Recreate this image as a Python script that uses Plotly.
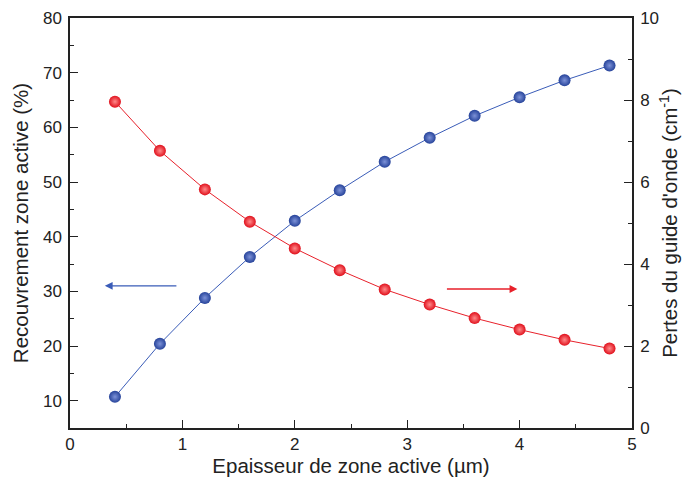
import plotly.graph_objects as go

thickness = [0.4, 0.8, 1.2, 1.6, 2.0, 2.4, 2.8, 3.2, 3.6, 4.0, 4.4, 4.8]
overlap = [10.7, 20.4, 28.8, 36.3, 42.9, 48.5, 53.7, 58.1, 62.1, 65.5, 68.6, 71.3]
losses = [7.96, 6.76, 5.82, 5.03, 4.38, 3.85, 3.38, 3.01, 2.68, 2.40, 2.15, 1.94]

blue = "#2d4b9e"
red = "#e8212b"
font = "Liberation Sans, Arial, sans-serif"

fig = go.Figure()
fig.add_trace(go.Scatter(
    x=thickness, y=overlap, mode="lines+markers", yaxis="y",
    line=dict(color="#3a5cb8", width=1),
    marker=dict(size=12, color="#26439a", line=dict(width=0),
                gradient=dict(type="radial", color="#7d92d8")),
    showlegend=False))
fig.add_trace(go.Scatter(
    x=thickness, y=losses, mode="lines+markers", yaxis="y2",
    line=dict(color=red, width=1),
    marker=dict(size=12, color="#e0101c", line=dict(width=0),
                gradient=dict(type="radial", color="#ff8a8a")),
    showlegend=False))

# direction arrows
fig.add_annotation(x=0.31, y=31.0, ax=0.96, ay=31.0, xref="x", yref="y",
                   axref="x", ayref="y", showarrow=True, arrowhead=2,
                   arrowsize=1.2, arrowwidth=1.3, arrowcolor="#3a5cb8", text="")
fig.add_annotation(x=3.98, y=3.39, ax=3.34, ay=3.39, xref="x", yref="y2",
                   axref="x", ayref="y2", showarrow=True, arrowhead=2,
                   arrowsize=1.2, arrowwidth=1.3, arrowcolor=red, text="")

axis_common = dict(showline=True, linecolor="#222", linewidth=1.5,
                   ticks="inside", ticklen=8, tickwidth=1.3, tickcolor="#222",
                   showgrid=False, zeroline=False, automargin=False,
                   tickfont=dict(family=font, size=17, color="#222"))

fig.update_layout(
    width=693, height=491,
    margin=dict(l=70, r=61, t=18, b=63),
    paper_bgcolor="white", plot_bgcolor="white",
    font=dict(family=font, color="#222"),
    xaxis=dict(range=[0, 5], dtick=1, tick0=0, mirror=True,
               minor=dict(ticks="inside", ticklen=4, dtick=0.5, tick0=0, tickcolor="#222"),
               title=dict(text="Epaisseur de zone active (µm)", font=dict(family=font, size=20.5), standoff=5),
               **axis_common),
    yaxis=dict(range=[5, 80], dtick=10, tick0=0, ticklabelstandoff=3,
               minor=dict(ticks="inside", ticklen=4, dtick=5, tick0=0, tickcolor="#222"),
               title=dict(text="Recouvrement zone active (%)", font=dict(family=font, size=20.5), standoff=9),
               **axis_common),
    yaxis2=dict(range=[0, 10], dtick=2, tick0=0, overlaying="y", side="right", ticklabelstandoff=3,
                minor=dict(ticks="inside", ticklen=4, dtick=1, tick0=0, tickcolor="#222"),
                title=dict(text="Pertes du guide d'onde (cm<sup>-1</sup>)", font=dict(family=font, size=20.5), standoff=5),
                **axis_common),
)

fig.write_html("out.html", post_script="document.body.style.margin='0';",
               config={"displayModeBar": False})
